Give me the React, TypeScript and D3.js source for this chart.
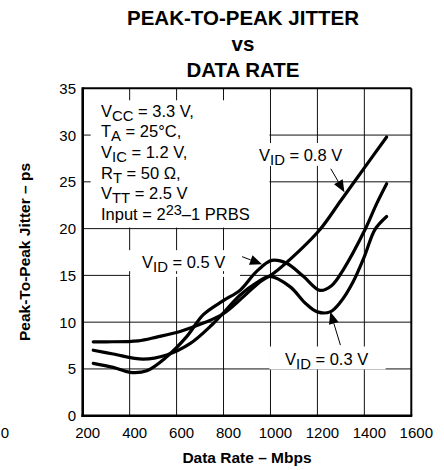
import React from "react";
import * as d3 from "d3";

const TITLE_LINES = ["PEAK-TO-PEAK JITTER", "vs", "DATA RATE"];
const X_TICKS = [200, 400, 600, 800, 1000, 1200, 1400, 1600];
const Y_TICKS = [0, 5, 10, 15, 20, 25, 30, 35];
const X_LABEL = "Data Rate – Mbps";
const Y_LABEL = "Peak-To-Peak Jitter – ps";

// V_ID = 0.8 V
const VID08_RATE = [245, 300, 437, 515, 615, 714, 799, 884, 955, 1012, 1126, 1211, 1300, 1400, 1495];
const VID08_JITTER = [7.9, 7.9, 8.0, 8.4, 9.0, 9.9, 10.9, 12.7, 14.3, 15.2, 17.7, 19.9, 23.0, 26.5, 29.8];

// V_ID = 0.5 V
const VID05_RATE = [245, 330, 401, 473, 558, 643, 714, 799, 870, 940, 1005, 1069, 1140, 1211, 1260, 1310, 1403, 1453, 1495];
const VID05_JITTER = [5.6, 5.17, 4.64, 4.81, 6.3, 8.45, 10.8, 12.3, 13.4, 15.4, 16.6, 16.3, 14.9, 13.4, 13.9, 15.6, 19.9, 22.7, 24.8];

// V_ID = 0.3 V
const VID03_RATE = [245, 330, 458, 558, 657, 750, 800, 871, 940, 998, 1083, 1150, 1200, 1254, 1300, 1350, 1400, 1445, 1495];
const VID03_JITTER = [7.0, 6.6, 6.05, 6.5, 7.7, 9.7, 11.0, 12.9, 14.2, 14.9, 13.8, 12.0, 11.1, 11.1, 12.2, 14.2, 17.0, 19.9, 21.3];

const CONDITIONS = [
  ["V", "CC", " = 3.3 V,"],
  ["T", "A", " = 25°C,"],
  ["V", "IC", " = 1.2 V,"],
  ["R", "T", " = 50 Ω,"],
  ["V", "TT", " = 2.5 V"],
];
const INPUT_LINE = ["Input = 2", "23", "–1 PRBS"];

const SERIES_LABELS = ["V_ID = 0.8 V", "V_ID = 0.5 V", "V_ID = 0.3 V"];

const W = 444;
const H = 470;
const X0 = 82.7;
const X1 = 411.3;
const Y0 = 415.7;
const Y1 = 88.3;
const FONT = "'Liberation Sans', Arial, Helvetica, sans-serif";

function Sub({ x, y, main, sub, rest, size = 16 }: any) {
  return (
    <text x={x} y={y} fontFamily={FONT} fontSize={size} fill="#000">
      {main}
      <tspan dy={4} fontSize={size * 0.9}>{sub}</tspan>
      <tspan dy={-4}>{rest}</tspan>
    </text>
  );
}

function Arrow({ tail, tip }: any) {
  const dx = tip[0] - tail[0];
  const dy = tip[1] - tail[1];
  const len = Math.sqrt(dx * dx + dy * dy);
  const ux = dx / len;
  const uy = dy / len;
  const L = 12;
  const hw = 5;
  const bx = tip[0] - ux * L;
  const by = tip[1] - uy * L;
  const p1 = [bx - uy * hw, by + ux * hw];
  const p2 = [bx + uy * hw, by - ux * hw];
  return (
    <g>
      <line x1={tail[0]} y1={tail[1]} x2={bx} y2={by} stroke="#000" strokeWidth={1} />
      <polygon points={`${tip[0]},${tip[1]} ${p1[0]},${p1[1]} ${p2[0]},${p2[1]}`} fill="#000" />
    </g>
  );
}

export default function App() {
  const x = d3.scaleLinear().domain([200, 1600]).range([X0, X1]);
  const y = d3.scaleLinear().domain([0, 35]).range([Y0, Y1]);
  const line = d3
    .line<[number, number]>()
    .x((d) => x(d[0]))
    .y((d) => y(d[1]))
    .curve(d3.curveCatmullRom.alpha(0.5));

  const series = [
    d3.zip(VID08_RATE, VID08_JITTER) as [number, number][],
    d3.zip(VID05_RATE, VID05_JITTER) as [number, number][],
    d3.zip(VID03_RATE, VID03_JITTER) as [number, number][],
  ];

  const gridColor = "#111";
  const condSize = 16.5;

  return (
    <svg
      width={W}
      height={H}
      viewBox={`0 0 ${W} ${H}`}
      style={{ position: "absolute", left: 0, top: 0, background: "#fff" }}
    >
      <rect x={0} y={0} width={W} height={H} fill="#fff" />
      {/* title */}
      {TITLE_LINES.map((t, i) => (
        <text
          key={t}
          x={243}
          y={25 + i * 26.2}
          textAnchor="middle"
          fontFamily={FONT}
          fontWeight="bold"
          fontSize={20.5}
        >
          {t}
        </text>
      ))}

      {/* grid */}
      {X_TICKS.slice(1, -1).map((t) => (
        <line key={"gx" + t} x1={x(t)} x2={x(t)} y1={Y1} y2={Y0} stroke={gridColor} strokeWidth={1} />
      ))}
      {Y_TICKS.slice(1, -1).map((t) => (
        <line key={"gy" + t} x1={X0} x2={X1} y1={y(t)} y2={y(t)} stroke={gridColor} strokeWidth={1} />
      ))}

      {/* white label boxes masking grid */}
      <rect x={X0 + 8} y={Y1 + 12} width={x(1000) - X0 - 9} height={y(20) - Y1 - 13} fill="#fff" />
      <rect x={x(938)} y={y(29.15)} width={x(1309) - x(938)} height={y(26.7) - y(29.15)} fill="#fff" />
      <rect x={x(390)} y={y(17.7)} width={x(860) - x(390)} height={y(15.45) - y(17.7)} fill="#fff" />
      <rect x={x(402)} y={y(15) - 1.5} width={x(870) - x(402)} height={3} fill="#fff" />
      <rect x={x(1000) - 1} y={y(7.4)} width={x(1495) - x(1000)} height={y(4.95) - y(7.4)} fill="#fff" />

      {/* frame */}
      <line x1={X0} x2={X1} y1={Y1} y2={Y1} stroke="#000" strokeWidth={2} />
      <line x1={X1} x2={X1} y1={Y1} y2={Y0} stroke="#000" strokeWidth={2} />
      <line x1={X0} x2={X0} y1={Y1 - 1} y2={Y0 + 1.3} stroke="#000" strokeWidth={2.6} />
      <line x1={X0 - 1.3} x2={X1 + 1} y1={Y0} y2={Y0} stroke="#000" strokeWidth={2.6} />

      {/* tick labels */}
      {X_TICKS.map((t) => (
        <text key={"xt" + t} x={x(t) + 5} y={438} textAnchor="middle" fontFamily={FONT} fontSize={15}>
          {t}
        </text>
      ))}
      {Y_TICKS.map((t) => (
        <text
          key={"yt" + t}
          x={76}
          y={y(t) + 5.5}
          textAnchor="end"
          fontFamily={FONT}
          fontSize={15}
        >
          {t}
        </text>
      ))}
      <text x={9} y={438} textAnchor="end" fontFamily={FONT} fontSize={15}>0</text>

      {/* axis labels */}
      <text x={247} y={463} textAnchor="middle" fontFamily={FONT} fontWeight="bold" fontSize={15.5}>
        {X_LABEL}
      </text>
      <text
        transform={`translate(30, ${(Y0 + Y1) / 2}) rotate(-90)`}
        textAnchor="middle"
        fontFamily={FONT}
        fontWeight="bold"
        fontSize={15.5}
      >
        {Y_LABEL}
      </text>

      {/* conditions */}
      {CONDITIONS.map((c, i) => (
        <Sub key={i} x={101} y={116.5 + i * 20.7} main={c[0]} sub={c[1]} rest={c[2]} size={condSize} />
      ))}
      <text x={101} y={116.5 + 5 * 20.7} fontFamily={FONT} fontSize={condSize}>
        {INPUT_LINE[0]}
        <tspan dy={-5} fontSize={14.5}>{INPUT_LINE[1]}</tspan>
        <tspan dy={5}>{INPUT_LINE[2]}</tspan>
      </text>

      {/* series labels */}
      {[
        { pos: [259, 161] },
        { pos: [142, 268] },
        { pos: [285, 365] },
      ].map((l, i) => {
        const parts = SERIES_LABELS[i].split("_");
        const rest = parts[1].slice(2);
        return <Sub key={"sl" + i} x={l.pos[0]} y={l.pos[1]} main={parts[0]} sub="ID" rest={rest} size={condSize} />;
      })}

      {/* curves */}
      {series.map((s, i) => (
        <path key={"s" + i} d={line(s) || ""} fill="none" stroke="#000" strokeWidth={3.2} strokeLinejoin="round" strokeLinecap="round" />
      ))}

      {/* arrows */}
      <Arrow tail={[x(1257), y(26.4)]} tip={[x(1315), y(23.9)]} />
      <Arrow tail={[x(879), y(17.0)]} tip={[x(964), y(16.2)]} />
      <Arrow tail={[x(1298), y(7.55)]} tip={[x(1255), y(11.1)]} />
    </svg>
  );
}
